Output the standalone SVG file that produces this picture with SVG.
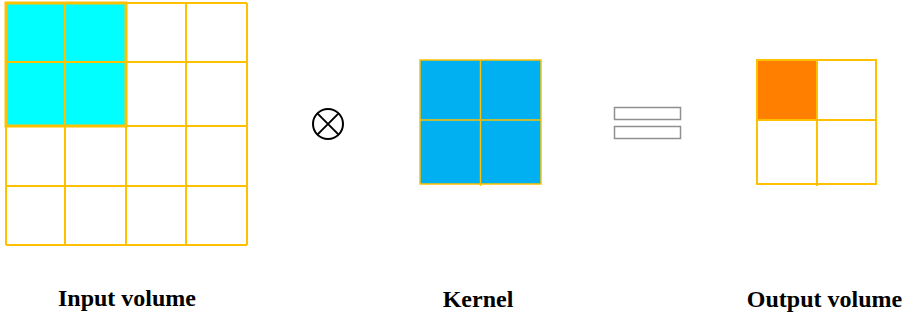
<svg xmlns="http://www.w3.org/2000/svg" width="902" height="321" viewBox="0 0 902 321">
<style>
.grid{fill:none;stroke:#FFC000;stroke-width:2}
.lbl{font-family:"Liberation Serif","Times New Roman",serif;font-weight:bold;font-size:24px;fill:#000;text-anchor:middle}
.eq{fill:#fff;stroke:#909090;stroke-width:1.5}
</style>
<rect width="902" height="321" fill="#fff"/>
<g id="input">
<rect x="6" y="3" width="120" height="123" fill="#00FFFF"/>
<path class="grid" d="M6 3V245M65 3V245M126 3V245M186 3V245M247 3V245M6 3H247M6 62H247M6 126H247M6 186H247M6 245H247"/>
<rect x="6" y="3" width="120" height="123" fill="none" stroke="#FFC000" stroke-width="3"/>
<text class="lbl" x="127" y="306">Input volume</text>
</g>
<g id="conv-op">
<circle cx="328" cy="124" r="15" fill="none" stroke="#000" stroke-width="2"/>
<path d="M317.4 113.4L338.6 134.6M338.6 113.4L317.4 134.6" stroke="#000" stroke-width="2"/>
</g>
<g id="kernel">
<rect x="420" y="60" width="121" height="124" fill="#00B0F0"/>
<path class="grid" stroke-width="1.5" d="M420 60H541V184H420ZM480.5 60V186M420 120H541" style="stroke-width:1.5"/>
<text class="lbl" x="478" y="307">Kernel</text>
</g>
<g id="equals">
<rect class="eq" x="614.5" y="107.5" width="66" height="12"/>
<rect class="eq" x="614.5" y="126.5" width="66" height="12"/>
</g>
<g id="output">
<rect x="757" y="60" width="60" height="60" fill="#FF8000"/>
<path class="grid" d="M757 60H876V184H757ZM817 60V186M757 120H876"/>
<text class="lbl" x="824.5" y="307">Output volume</text>
</g>
<g id="connectors"/>
</svg>
